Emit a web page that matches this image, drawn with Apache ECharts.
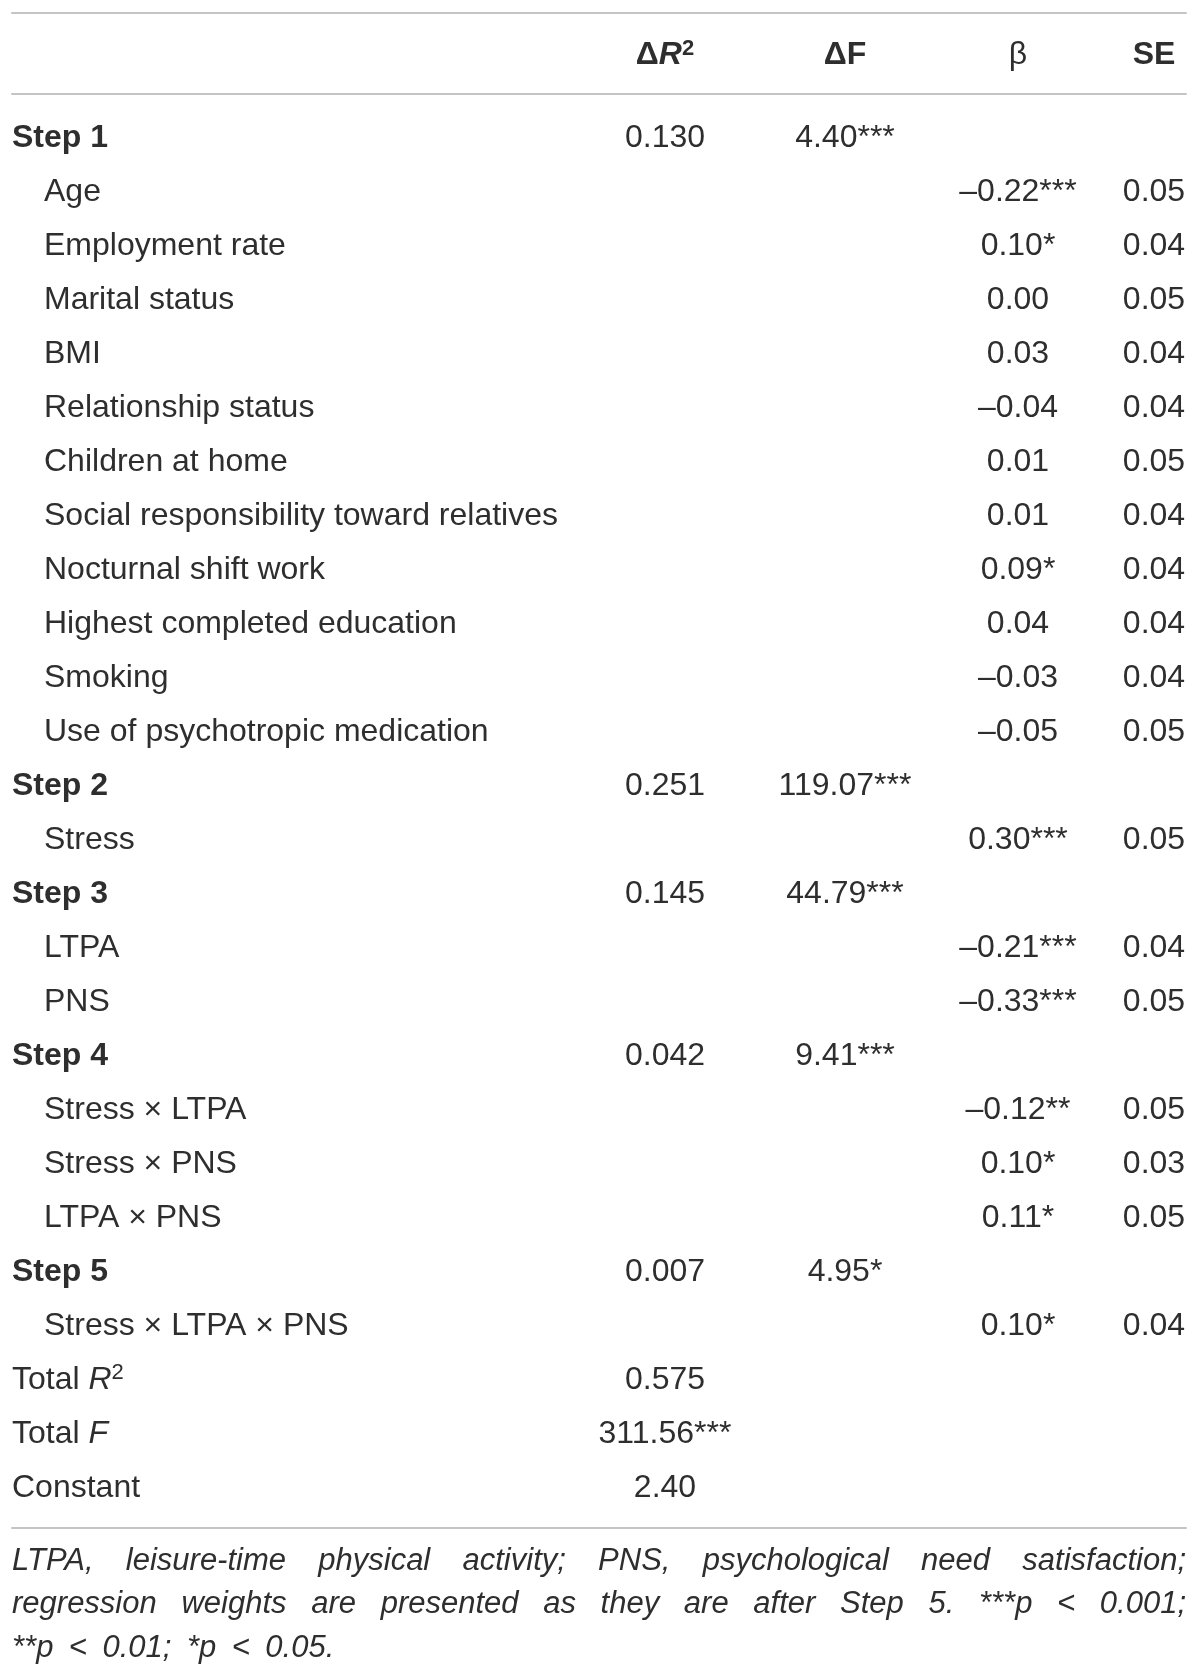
<!DOCTYPE html>
<html>
<head>
<meta charset="UTF-8">
<title>Hierarchical regression</title>
<script src="https://cdn.jsdelivr.net/npm/echarts@6/dist/echarts.min.js"></script>
<style>
  html, body { margin: 0; padding: 0; background: #fff; }
  #regTable { width: 1200px; height: 1675px; }
</style>
</head>
<body>
<div id="regTable"></div>
<script>
// table content
var headers = ['ΔR²', 'ΔF', 'β', 'SE'];
var rowLabels = [
  'Step 1', 'Age', 'Employment rate', 'Marital status', 'BMI', 'Relationship status',
  'Children at home', 'Social responsibility toward relatives', 'Nocturnal shift work',
  'Highest completed education', 'Smoking', 'Use of psychotropic medication',
  'Step 2', 'Stress',
  'Step 3', 'LTPA', 'PNS',
  'Step 4', 'Stress × LTPA', 'Stress × PNS', 'LTPA × PNS',
  'Step 5', 'Stress × LTPA × PNS',
  'Total R²', 'Total F', 'Constant'
];
var rowKind = [
  'step', 'item', 'item', 'item', 'item', 'item', 'item', 'item', 'item', 'item', 'item', 'item',
  'step', 'item',
  'step', 'item', 'item',
  'step', 'item', 'item', 'item',
  'step', 'item',
  'total', 'total', 'total'
];
var deltaR2 = [
  '0.130', '', '', '', '', '', '', '', '', '', '', '',
  '0.251', '',
  '0.145', '', '',
  '0.042', '', '', '',
  '0.007', '',
  '0.575', '311.56***', '2.40'
];
var deltaF = [
  '4.40***', '', '', '', '', '', '', '', '', '', '', '',
  '119.07***', '',
  '44.79***', '', '',
  '9.41***', '', '', '',
  '4.95*', '',
  '', '', ''
];
var beta = [
  '', '–0.22***', '0.10*', '0.00', '0.03', '–0.04', '0.01', '0.01', '0.09*', '0.04', '–0.03', '–0.05',
  '', '0.30***',
  '', '–0.21***', '–0.33***',
  '', '–0.12**', '0.10*', '0.11*',
  '', '0.10*',
  '', '', ''
];
var stdErr = [
  '', '0.05', '0.04', '0.05', '0.04', '0.04', '0.05', '0.04', '0.04', '0.04', '0.04', '0.05',
  '', '0.05',
  '', '0.04', '0.05',
  '', '0.05', '0.03', '0.05',
  '', '0.04',
  '', '', ''
];
var footnote = [
  'LTPA, leisure-time physical activity; PNS, psychological need satisfaction;',
  'regression weights are presented as they are after Step 5. ***p < 0.001;',
  '**p < 0.01; *p < 0.05.'
];

// layout (pixel-valued x axis)
var LEFT = 12, RIGHT = 1186;
var INDENT = 44;
var colX = [665, 845, 1018, 1154];
var TEXT_DY = 2;
var FONT = '"Liberation Sans", Arial, Helvetica, sans-serif';
var INK = '#2e2e2e';
var RULE = '#c4c4c4';

function fontSet(size, weight, style) {
  return { fontSize: size, fontFamily: FONT, fontWeight: weight || 'normal', fontStyle: style || 'normal', fill: INK };
}
var rich = {
  b: Object.assign(fontSet(32, 'bold'), { lineHeight: 36 }),
  bi: Object.assign(fontSet(32, 'bold', 'italic'), { lineHeight: 36 }),
  bsup: Object.assign(fontSet(22, 'bold'), { lineHeight: 22, verticalAlign: 'top' }),
  r: Object.assign(fontSet(32), { lineHeight: 36 }),
  it: Object.assign(fontSet(32, 'normal', 'italic'), { lineHeight: 36 }),
  sup: Object.assign(fontSet(22), { lineHeight: 22, verticalAlign: 'top' })
};

function headerText(h) {
  if (h === 'ΔR²') return '{b|Δ}{bi|R}{bsup|2}';
  if (h === 'β') return '{r|β}';
  return '{b|' + h + '}';
}
function labelText(l) {
  if (l === 'Total R²') return '{r|Total }{it|R}{sup|2}';
  if (l === 'Total F') return '{r|Total }{it|F}';
  return null;
}

function cellText(x, y, text, align, weight) {
  return {
    type: 'text',
    style: Object.assign(fontSet(32, weight), {
      text: text, x: x, y: y + TEXT_DY, align: align, verticalAlign: 'middle', rich: rich
    })
  };
}

function renderHeader(params, api) {
  var p = api.coord([api.value(0), 0]);
  return cellText(p[0], p[1], headerText(headers[params.dataIndex]), 'center');
}

function renderRow(params, api) {
  var i = params.dataIndex;
  var kind = rowKind[i];
  var lp = api.coord([kind === 'item' ? INDENT : LEFT, i]);
  var children = [];
  var rl = labelText(rowLabels[i]);
  children.push(cellText(lp[0], lp[1], rl || rowLabels[i], 'left', kind === 'step' ? 'bold' : 'normal'));
  var cells = [deltaR2[i], deltaF[i], beta[i], stdErr[i]];
  for (var k = 0; k < cells.length; k++) {
    if (!cells[k]) continue;
    var p = api.coord([colX[k], i]);
    children.push(cellText(p[0], p[1], cells[k], 'center'));
  }
  return { type: 'group', children: children };
}

// justified footnote words
var measure = document.createElement('canvas').getContext('2d');
var NOTE_FONT = 'italic 31px "Liberation Sans", Arial, sans-serif';
measure.font = NOTE_FONT;
var noteTop = 1561, noteStep = 43.5;
var noteGraphics = [];
footnote.forEach(function (line, li) {
  var words = line.split(' ');
  var widths = words.map(function (w) { return measure.measureText(w).width; });
  var total = widths.reduce(function (a, b) { return a + b; }, 0);
  var justify = li < footnote.length - 1;
  var gap = justify ? (RIGHT - LEFT - total) / (words.length - 1) : measure.measureText(' ').width * 1.8;
  var x = LEFT;
  words.forEach(function (w, wi) {
    noteGraphics.push({
      type: 'text', x: x, y: noteTop + li * noteStep,
      style: { text: w, font: NOTE_FONT, fill: INK, verticalAlign: 'middle', align: 'left' }
    });
    x += widths[wi] + gap;
  });
});

function hiddenX(grid, pos, offset, showLine) {
  return {
    type: 'value', gridIndex: grid, min: LEFT, max: RIGHT, position: pos, offset: offset || 0,
    axisLine: { show: showLine, onZero: false, lineStyle: { color: RULE, width: 2 } },
    axisTick: { show: false }, axisLabel: { show: false }, splitLine: { show: false }
  };
}

var chart = echarts.init(document.getElementById('regTable'), null, { renderer: 'canvas' });
chart.setOption({
  backgroundColor: '#ffffff',
  animation: false,
  grid: [
    { left: LEFT, right: 1200 - RIGHT, top: 13, height: 81 },
    { left: LEFT, right: 1200 - RIGHT, top: 108.7, height: 1404 }
  ],
  xAxis: [
    hiddenX(0, 'top', 0, true),
    hiddenX(0, 'bottom', 0, true),
    hiddenX(1, 'bottom', 15, true)
  ],
  yAxis: [
    { type: 'category', gridIndex: 0, data: ['header'], show: false },
    { type: 'category', gridIndex: 1, data: rowLabels, inverse: true, show: false }
  ],
  series: [
    {
      type: 'custom', xAxisIndex: 0, yAxisIndex: 0,
      data: headers.map(function (h, k) { return [colX[k], 0]; }),
      renderItem: renderHeader, silent: true
    },
    {
      type: 'custom', xAxisIndex: 2, yAxisIndex: 1,
      data: rowLabels.map(function (l, i) { return [LEFT, i]; }),
      renderItem: renderRow, silent: true
    }
  ],
  graphic: noteGraphics
});
</script>
</body>
</html>
